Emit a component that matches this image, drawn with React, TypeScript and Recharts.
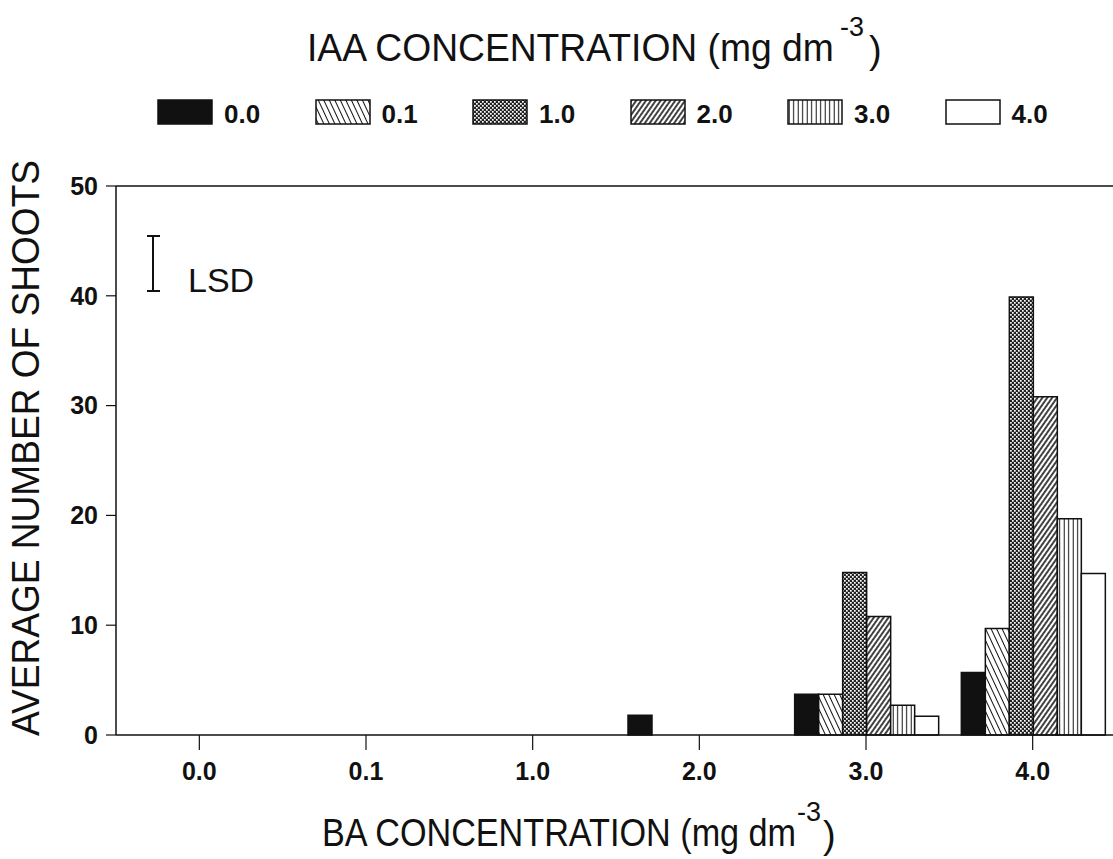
import React from 'react';
import { BarChart, Bar, XAxis, YAxis, ReferenceLine, Legend } from 'recharts';

const baLabels = ['0.0', '0.1', '1.0', '2.0', '3.0', '4.0'];
const iaaLabels = ['0.0', '0.1', '1.0', '2.0', '3.0', '4.0'];
const iaa00 = [0, 0, 0, 1.8, 3.7, 5.7];
const iaa01 = [0, 0, 0, 0, 3.7, 9.7];
const iaa10 = [0, 0, 0, 0, 14.8, 39.9];
const iaa20 = [0, 0, 0, 0, 10.8, 30.8];
const iaa30 = [0, 0, 0, 0, 2.7, 19.7];
const iaa40 = [0, 0, 0, 0, 1.7, 14.7];
const yTicks = [0, 10, 20, 30, 40, 50];

const seriesValues = [iaa00, iaa01, iaa10, iaa20, iaa30, iaa40];
const seriesKeys = ['s0', 's1', 's2', 's3', 's4', 's5'];
const fills = ['#111', 'url(#p01)', 'url(#p10)', 'url(#p20)', 'url(#p30)', '#fff'];

const data = baLabels.map((ba, i) => {
  const row: any = { ba };
  seriesKeys.forEach((k, j) => (row[k] = seriesValues[j][i]));
  return row;
});

const FONT = '"Liberation Sans", Arial, Helvetica, sans-serif';

const Patterns = () => (
  <svg width={0} height={0} style={{ position: 'absolute' }}>
    <defs>
      <pattern id="p01" patternUnits="userSpaceOnUse" width={5} height={10} patternTransform="rotate(-25)">
        <rect width={5} height={10} fill="#fff" />
        <line x1={2.5} y1={0} x2={2.5} y2={10} stroke="#111" strokeWidth={1} />
      </pattern>
      <pattern id="p10" patternUnits="userSpaceOnUse" width={4} height={4}>
        <rect width={4} height={4} fill="#222" />
        <rect x={0} y={0} width={1.7} height={1.7} fill="#fff" />
        <rect x={2} y={2} width={1.7} height={1.7} fill="#fff" />
      </pattern>
      <pattern id="p20" patternUnits="userSpaceOnUse" width={4} height={10} patternTransform="rotate(35)">
        <rect width={4} height={10} fill="#fff" />
        <line x1={2} y1={0} x2={2} y2={10} stroke="#111" strokeWidth={1.6} />
      </pattern>
      <pattern id="p30" patternUnits="userSpaceOnUse" width={4.5} height={10}>
        <rect width={4.5} height={10} fill="#fff" />
        <line x1={2.2} y1={0} x2={2.2} y2={10} stroke="#111" strokeWidth={1} />
      </pattern>
    </defs>
  </svg>
);

const Title = ({ x, y, text, sx, supX, parX }: { x: number; y: number; text: string; sx: number; supX: number; parX: number }) => (
  <g fontFamily={FONT} fill="#111">
    <text transform={`translate(${x},${y}) scale(${sx},1)`} fontSize={38}>{text}</text>
    <text x={supX} y={y - 25} fontSize={27}>-3</text>
    <text x={parX} y={y + 2} fontSize={38}>)</text>
  </g>
);

const LegendContent = () => (
  <div style={{ position: 'relative', width: 1113, height: 150, fontFamily: FONT }}>
    <svg width={1113} height={80} style={{ position: 'absolute', left: 0, top: 0 }}>
      <Title x={307} y={61} text="IAA CONCENTRATION (mg dm" sx={0.98} supX={840} parX={869} />
    </svg>
    {iaaLabels.map((lab, i) => (
      <div
        key={lab}
        style={{ position: 'absolute', left: 157 + i * 157.5, top: 97, display: 'flex', alignItems: 'center' }}
      >
        <svg width={56} height={26}>
          <rect x={1} y={1} width={54} height={24} fill={fills[i]} stroke="#111" strokeWidth={1.5} />
        </svg>
        <span style={{ marginLeft: 11, fontSize: 26, fontWeight: 'bold', color: '#111', lineHeight: '26px', marginTop: 4 }}>{lab}</span>
      </div>
    ))}
  </div>
);

const YTitle = () => (
  <text
    transform="translate(39,448) rotate(-90)"
    textAnchor="middle"
    fontSize={38}
    fill="#111"
    fontFamily={FONT}
    textLength={576}
    lengthAdjust="spacingAndGlyphs"
  >
    AVERAGE NUMBER OF SHOOTS
  </text>
);

const XTitle = () => <Title x={322} y={846} text="BA CONCENTRATION (mg dm" sx={0.9} supX={797} parX={823} />;

export default function App() {
  return (
    <div style={{ position: 'absolute', left: 0, top: 0, width: 1113, height: 859, overflow: 'hidden', background: '#fff' }}>
      <Patterns />
      <BarChart
        width={1116}
        height={859}
        data={data}
        margin={{ top: 186, right: 0, left: 0, bottom: 0 }}
        barCategoryGap="7.2%"
        barGap={0}
      >
        <XAxis
          dataKey="ba"
          height={124}
          axisLine={{ stroke: '#111', strokeWidth: 1.5 }}
          tickLine={{ stroke: '#111', strokeWidth: 1.2 }}
          tickSize={15}
          tickMargin={12}
          tick={{ fontSize: 25, fontWeight: 'bold', fill: '#111', fontFamily: FONT }}
          label={{ content: () => <XTitle /> }}
        />
        <YAxis
          width={116}
          domain={[0, 50]}
          ticks={yTicks}
          axisLine={{ stroke: '#111', strokeWidth: 1.5 }}
          tickLine={{ stroke: '#111', strokeWidth: 1.2 }}
          tickSize={10}
          tickMargin={8}
          tick={{ fontSize: 25, fontWeight: 'bold', fill: '#111', fontFamily: FONT }}
          label={{ content: () => <YTitle /> }}
        />
        <ReferenceLine y={50} stroke="#111" strokeWidth={1.5} />
        <Legend
          verticalAlign="middle"
          align="center"
          content={() => <LegendContent />}
          wrapperStyle={{ top: 0, left: 0, width: 1113, height: 150 }}
        />
        {seriesKeys.map((k, i) => (
          <Bar
            key={k}
            dataKey={k}
            name={iaaLabels[i]}
            fill={fills[i]}
            stroke="#111"
            strokeWidth={1.5}
            isAnimationActive={false}
          />
        ))}
      </BarChart>
      <svg width={300} height={120} style={{ position: 'absolute', left: 120, top: 220 }}>
        <line x1={33} y1={16} x2={33} y2={71} stroke="#111" strokeWidth={2} />
        <line x1={27} y1={16} x2={40} y2={16} stroke="#111" strokeWidth={2} />
        <line x1={27} y1={71} x2={40} y2={71} stroke="#111" strokeWidth={2} />
        <text x={68} y={72} fontSize={34} fill="#111" fontFamily={FONT}>LSD</text>
      </svg>
    </div>
  );
}
